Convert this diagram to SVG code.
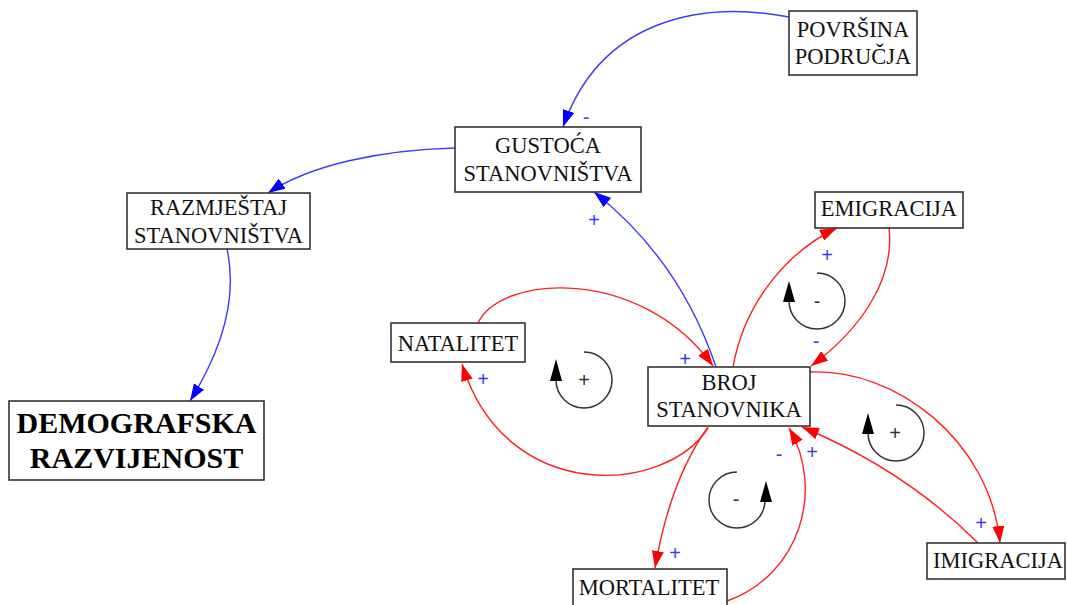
<svg xmlns="http://www.w3.org/2000/svg" width="1067" height="605" viewBox="0 0 1067 605">
<style>
.box{fill:#fff;stroke:#333;stroke-width:1.6}
.t{font-family:"Liberation Serif","Times New Roman",serif;font-size:22.5px;fill:#111;text-anchor:middle}
.tb{font-family:"Liberation Serif","Times New Roman",serif;font-size:30px;font-weight:bold;fill:#000;text-anchor:middle}
.blue{fill:none;stroke:#3a3aff;stroke-width:1.4}
.red{fill:none;stroke:#ff2020;stroke-width:1.4}
.loop{fill:none;stroke:#333;stroke-width:1.5}
.sg{font-family:"Liberation Sans",Arial,sans-serif;font-size:20px;fill:#3a3aff;text-anchor:middle}
.sl{font-family:"Liberation Sans",Arial,sans-serif;font-size:20px;fill:#333;text-anchor:middle}
</style>
<defs>
<marker id="ab" markerUnits="userSpaceOnUse" markerWidth="18" markerHeight="12" refX="17" refY="6" orient="auto"><path d="M0,0 L17,6 L0,12 z" fill="#0000ff"/></marker>
<marker id="ar" markerUnits="userSpaceOnUse" markerWidth="18" markerHeight="12" refX="17" refY="6" orient="auto"><path d="M0,0 L17,6 L0,12 z" fill="#ff0000"/></marker>
</defs>
<rect width="1067" height="605" fill="#fff"/>
<g id="connectors">
<path class="blue" d="M789,17 C700,0 600,20 563,127" marker-end="url(#ab)"/>
<path class="blue" d="M455,148 C380,150 310,165 268,193" marker-end="url(#ab)"/>
<path class="blue" d="M227,249 C236,290 228,340 190,401" marker-end="url(#ab)"/>
<path class="blue" d="M716,367 Q680,260 594,192" marker-end="url(#ab)"/>
<path class="red" d="M478,323 C500,275 640,265 713,366" marker-end="url(#ar)"/>
<path class="red" d="M708,428 C665,495 505,505 462,364" marker-end="url(#ar)"/>
<path class="red" d="M733,367 C745,300 790,250 837,228" marker-end="url(#ar)"/>
<path class="red" d="M889,228 C895,280 860,330 811,366" marker-end="url(#ar)"/>
<path class="red" d="M810,372 C895,368 990,440 1000,543" marker-end="url(#ar)"/>
<path class="red" d="M978,543 Q905,470 802,427" marker-end="url(#ar)"/>
<path class="red" d="M708,427 Q670,480 655,568" marker-end="url(#ar)"/>
<path class="red" d="M727,601 C800,575 825,490 789,428" marker-end="url(#ar)"/>
<text class="sg" x="586" y="124">-</text>
<text class="sg" x="594" y="227">+</text>
<text class="sg" x="685" y="366">+</text>
<text class="sg" x="483" y="386">+</text>
<text class="sg" x="827" y="262">+</text>
<text class="sg" x="816" y="348">-</text>
<text class="sg" x="779" y="461">-</text>
<text class="sg" x="812" y="459">+</text>
<text class="sg" x="981" y="530">+</text>
<text class="sg" x="675" y="560">+</text>
</g>
<g id="loop-natalitet">
<path class="loop" d="M584,352 A28,28 0 1 1 556,380"/>
<path d="M556,359 L550,381 L562,381 z" fill="#000"/>
<text class="sl" x="584" y="387">+</text>
</g>
<g id="loop-emigracija">
<path class="loop" d="M817,273 A28,28 0 1 1 789,301"/>
<path d="M789,281 L783,302 L795,302 z" fill="#000"/>
<text class="sl" x="817" y="308">-</text>
</g>
<g id="loop-imigracija">
<path class="loop" d="M896,405 A28,28 0 1 1 868,433"/>
<path d="M868,413 L862,434 L874,434 z" fill="#000"/>
<text class="sl" x="895" y="440">+</text>
</g>
<g id="loop-mortalitet">
<path class="loop" d="M737,472 A28,28 0 1 0 765,500"/>
<path d="M766,481 L760,502 L772,502 z" fill="#000"/>
<text class="sl" x="736" y="506">-</text>
</g>
<g id="povrsina">
<rect class="box" x="789" y="11" width="128" height="64"/>
<text class="t" x="853" y="37">POVRŠINA</text>
<text class="t" x="853" y="64">PODRUČJA</text>
</g>
<g id="gustoca">
<rect class="box" x="455" y="127" width="186" height="65"/>
<text class="t" x="548" y="153">GUSTOĆA</text>
<text class="t" x="548" y="181">STANOVNIŠTVA</text>
</g>
<g id="razmjestaj">
<rect class="box" x="127" y="193" width="183" height="56"/>
<text class="t" x="218.5" y="215">RAZMJEŠTAJ</text>
<text class="t" x="218.5" y="243">STANOVNIŠTVA</text>
</g>
<g id="demografska">
<rect class="box" x="9" y="401" width="255" height="79"/>
<text class="tb" x="136.5" y="433">DEMOGRAFSKA</text>
<text class="tb" x="136.5" y="468">RAZVIJENOST</text>
</g>
<g id="natalitet">
<rect class="box" x="391" y="323" width="134" height="39"/>
<text class="t" x="458" y="351">NATALITET</text>
</g>
<g id="broj">
<rect class="box" x="648" y="367" width="162" height="59"/>
<text class="t" x="729" y="390">BROJ</text>
<text class="t" x="729" y="417">STANOVNIKA</text>
</g>
<g id="emigracija">
<rect class="box" x="815" y="192" width="148" height="36"/>
<text class="t" x="889" y="216">EMIGRACIJA</text>
</g>
<g id="imigracija">
<rect class="box" x="927" y="543" width="138" height="36"/>
<text class="t" x="998" y="568">IMIGRACIJA</text>
</g>
<g id="mortalitet">
<rect class="box" x="573" y="569" width="154" height="50"/>
<text class="t" x="649" y="595">MORTALITET</text>
</g>
</svg>
